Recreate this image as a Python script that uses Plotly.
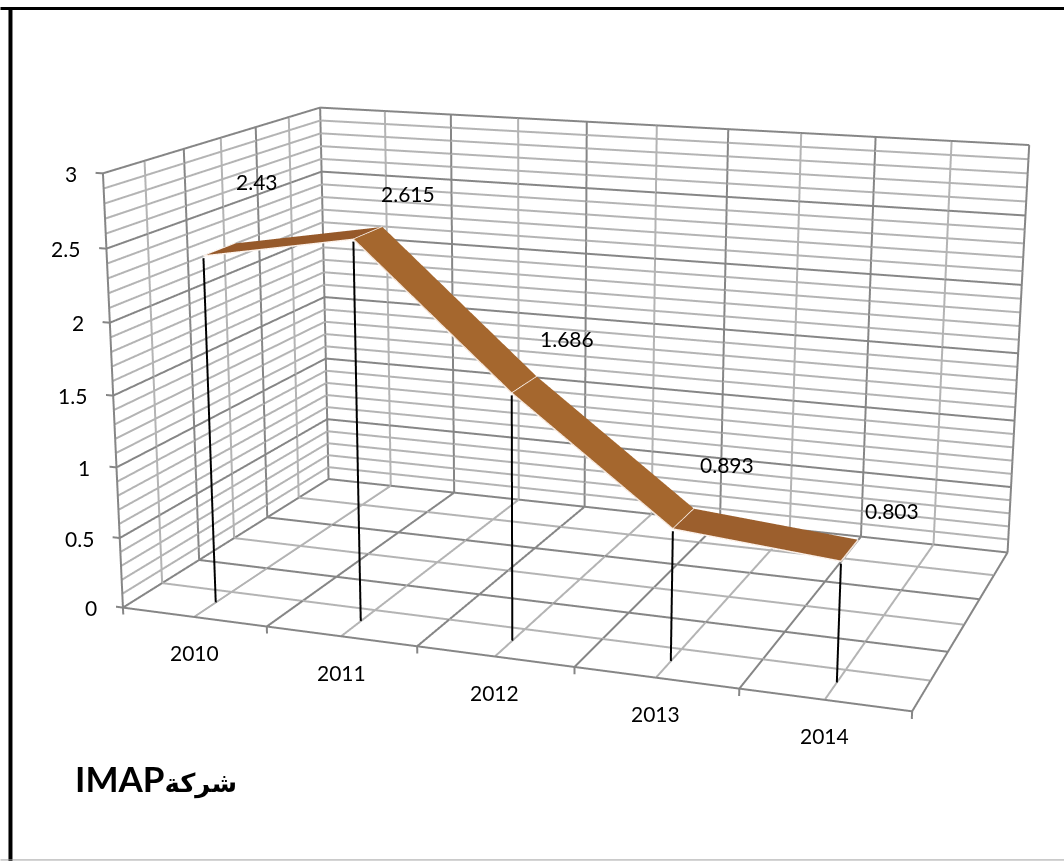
import plotly.graph_objects as go

years = ["2010", "2011", "2012", "2013", "2014"]
values = [2.43, 2.615, 1.686, 0.893, 0.803]
value_ticks = [0, 0.5, 1, 1.5, 2, 2.5, 3]
value_tick_text = ["0", "0.5", "1", "1.5", "2", "2.5", "3"]
title_latin = "IMAP"
title_arabic = "شركة"

W, H = 1064, 861
# Ranges the camera was fitted on, and the slightly wider ones actually drawn
# (so lines lying on the box edges are not clipped).
XR0, YR0, ZR0 = (-0.05, 5.0), (0.0, 1.0), (-0.05, 3.0)
XR, YR, ZR = (-0.05, 5.02), (-0.01, 1.01), (-0.05, 3.02)

# Camera fitted to the reference's box corners; the figure is larger than the
# window (factor K_) so the fixed 45 degree field of view gives a weaker perspective.
EYE = (0.9987, -2.8472, 0.7539)
CEN = (-0.0179, -0.1135, -0.0424)
AY, AZ, K_ = 0.6029, 0.5521, 2.3824

def width(r): return r[1]-r[0]
def mid(r): return (r[0]+r[1])/2
aspect = dict(x=width(XR)/width(XR0), y=AY*width(YR)/width(YR0), z=AZ*width(ZR)/width(ZR0))
shift = ((mid(XR)-mid(XR0))/width(XR0), (mid(YR)-mid(YR0))/width(YR0)*AY, (mid(ZR)-mid(ZR0))/width(ZR0)*AZ)
eye = dict(zip("xyz", (e-s for e, s in zip(EYE, shift))))
cen = dict(zip("xyz", (c-s for c, s in zip(CEN, shift))))

FW, FH = W*K_, H*K_
OX, OY = (FW-W)/2, (FH-H)/2
def px(x): return (x+OX)/FW
def py(y): return 1-(y+OY)/FH

MAJOR = "#868686"; MINOR = "#b4b4b4"
def segs(items):
    xs, ys, zs = [], [], []
    for a, b in items:
        xs += [a[0], b[0], None]; ys += [a[1], b[1], None]; zs += [a[2], b[2], None]
    return xs, ys, zs

z_all = [i/10 for i in range(31)]
x_all = [i/2 for i in range(11)]
d_all = [i/6 for i in range(7)]
major, minor = [], []
for z in z_all:
    t = major if round(z*10) % 5 == 0 else minor
    t.append(((0,1,z),(5,1,z))); t.append(((0,0,z),(0,1,z)))
for x in x_all:
    t = major if x == int(x) else minor
    t.append(((x,1,0),(x,1,3))); t.append(((x,0,0),(x,1,0)))
for i, d in enumerate(d_all):
    t = major if i % 2 == 0 else minor
    t.append(((0,d,0),(0,d,3))); t.append(((0,d,0),(5,d,0)))
for x in range(6):
    major.append(((x,0,0),(x,0,-0.05)))
for z in value_ticks:
    major.append(((0,0,z),(-0.05,0,z)))

fig = go.Figure()
for items, col in ((minor, MINOR), (major, MAJOR)):
    xs, ys, zs = segs(items)
    fig.add_trace(go.Scatter3d(x=xs, y=ys, z=zs, mode="lines", line=dict(color=col, width=4), hoverinfo="skip", showlegend=False))

D0, D1 = 0.095, 0.235
cx = [i+0.5 for i in range(len(values))]
mx, my, mz, I, J_, K = [], [], [], [], [], []
for i, (x, v) in enumerate(zip(cx, values)):
    mx += [x, x]; my += [D0, D1]; mz += [v, v]
for i in range(len(values)-1):
    a = 2*i
    I += [a, a+1]; J_ += [a+1, a+3]; K += [a+2, a+2]
seg_cols = ["#96592a","#96592a","#a5672e","#a5672e","#a5672e","#a5672e","#9c5f2d","#9c5f2d"]
fig.add_trace(go.Mesh3d(x=mx, y=my, z=mz, i=I, j=J_, k=K, facecolor=seg_cols, flatshading=True,
    lighting=dict(ambient=1, diffuse=0, specular=0, roughness=1, fresnel=0), hoverinfo="skip", showlegend=False))
edge = []
for i in range(len(values)-1):
    edge.append(((cx[i],D0,values[i]),(cx[i+1],D0,values[i+1])))
for x, v in zip(cx, values):
    edge.append(((x,D0,v),(x,D1,v)))
xs, ys, zs = segs(edge)
fig.add_trace(go.Scatter3d(x=xs, y=ys, z=zs, mode="lines", line=dict(color="#fdf3ec", width=3), hoverinfo="skip", showlegend=False))
xs, ys, zs = segs([((x,D0,v-0.015),(x,D0,0)) for x, v in zip(cx, values)])
fig.add_trace(go.Scatter3d(x=xs, y=ys, z=zs, mode="lines", line=dict(color="black", width=4), hoverinfo="skip", showlegend=False))

FONT = dict(family="Lato, 'DejaVu Sans'", size=21, color="black")
ann = []
for t, s in zip(value_ticks, value_tick_text):
    ann.append(dict(x=0, y=0, z=t, text=s, showarrow=False, xanchor="right", xshift=-24, font=FONT))
for x, s in zip(cx, years):
    ann.append(dict(x=x, y=0, z=0, text=s, showarrow=False, yshift=-36, font=FONT))
lab_dx = [21, 26, 30, 33, 34]
lab_dy = [62, 33, 38, 44, 29]
for x, v, a, b in zip(cx, values, lab_dx, lab_dy):
    ann.append(dict(x=x, y=D1, z=v, text=str(v), showarrow=False, xshift=a, yshift=b, font=FONT))

ax = dict(visible=False, showgrid=False, zeroline=False, showspikes=False, showticklabels=False, showbackground=False, title="")
title_html = (f"<b><span style='font-size:35px'>{title_latin}</span>"
              f"<span style='font-size:26px'>{title_arabic}</span></b>")
fig.update_layout(
    width=FW, height=FH, margin=dict(l=0, r=0, t=0, b=0), paper_bgcolor="white", showlegend=False,
    scene=dict(domain=dict(x=[0,1], y=[0,1]),
        xaxis=dict(ax, range=list(XR)), yaxis=dict(ax, range=list(YR)), zaxis=dict(ax, range=list(ZR)),
        aspectmode="manual", aspectratio=aspect,
        camera=dict(eye=eye, center=cen, up=dict(x=0,y=0,z=1), projection=dict(type="perspective")),
        dragmode=False, annotations=ann),
    annotations=[
        dict(xref="paper", yref="paper", x=px(156), y=py(778), text=title_html, showarrow=False,
             xanchor="center", yanchor="middle",
             font=dict(family="Lato, 'DejaVu Sans'", size=31, color="black")),
    ],
    shapes=[
        dict(type="line", xref="paper", yref="paper", x0=px(0), x1=px(W), y0=py(8.5), y1=py(8.5), line=dict(color="black", width=3)),
        dict(type="line", xref="paper", yref="paper", x0=px(10), x1=px(10), y0=py(7), y1=py(H), line=dict(color="black", width=4)),
        dict(type="line", xref="paper", yref="paper", x0=px(0), x1=px(W), y0=py(860), y1=py(860), line=dict(color="#a0a0a0", width=1)),
    ],
)
post = f"""document.documentElement.style.overflow='hidden';document.body.style.overflow='hidden';document.body.style.margin='0';
var g=document.querySelector('.plotly-graph-div');g.style.position='fixed';g.style.left='{-OX}px';g.style.top='{-OY}px';"""
fig.write_html("out.html", post_script=post, config=dict(displayModeBar=False))
